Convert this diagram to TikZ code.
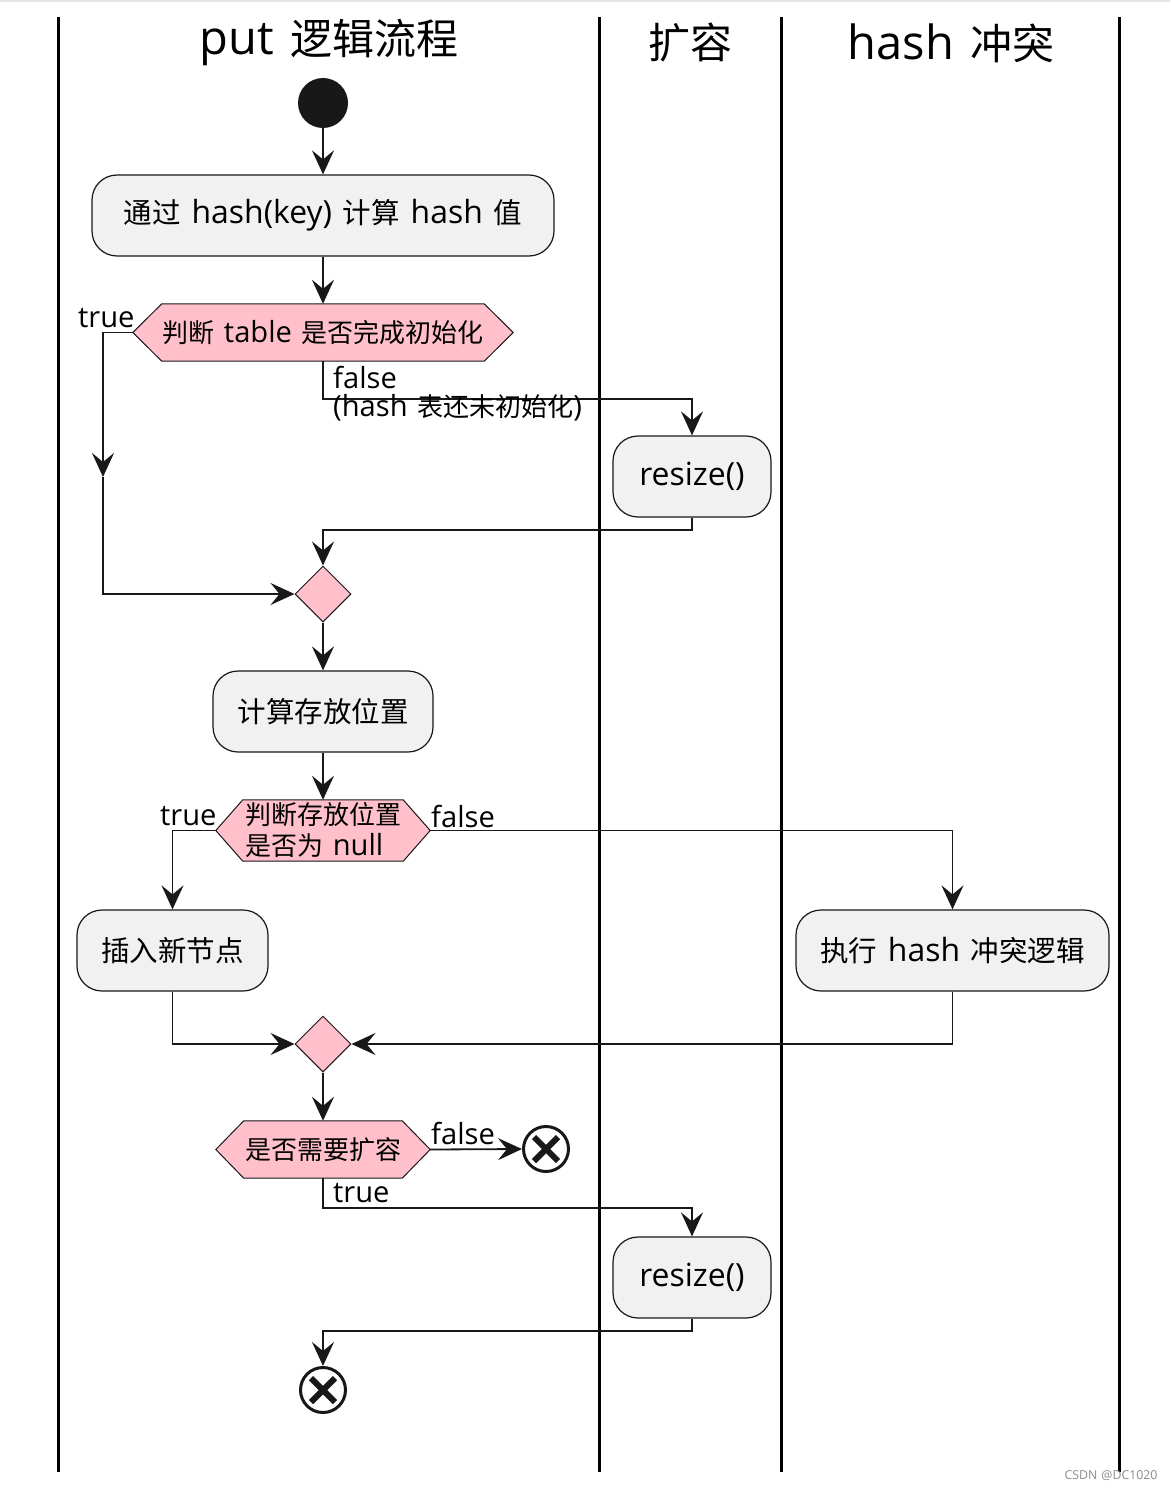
\documentclass[tikz,border=0pt]{standalone}
\usepackage{fontspec}
\setmainfont[Scale=1.12,WordSpace=1.3]{Open Sans}
\newfontfamily\cjkfam{Noto Sans CJK SC}
\newcommand\zhtxt[1]{{\cjkfam #1}}
\usetikzlibrary{arrows.meta,shapes.geometric,calc,backgrounds}
\definecolor{linec}{HTML}{181818}
\definecolor{boxfill}{HTML}{F1F1F1}
\definecolor{hexfill}{HTML}{FFC0CB}
\begin{document}
\begin{tikzpicture}[x=1pt,y=-1pt,
  lane/.style={line width=3pt,black},
  hdr/.style={font=\fontsize{42}{48}\selectfont,inner sep=0pt},
  act/.style={draw=linec,line width=1.2pt,fill=boxfill,rounded corners=25pt,minimum height=81pt,inner sep=0pt,font=\fontsize{28.5}{34}\selectfont},
  hexnode/.style={inner sep=0pt,font=\fontsize{26}{31}\selectfont},
  hexline/.style={draw=linec,line width=1pt,fill=hexfill},
  merge/.style={diamond,draw=linec,line width=1pt,fill=hexfill,minimum width=56pt,minimum height=56pt,inner sep=0pt},
  startc/.style={circle,fill=linec,minimum size=50pt,inner sep=0pt},
  endc/.style={circle,draw=linec,line width=3pt,fill=white,minimum size=45pt,inner sep=0pt},
  ln/.style={draw=linec,line width=1.8pt},
  arr/.style={ln,-{Stealth[length=24pt,width=22pt,inset=9pt]}},
  lbl/.style={font=\fontsize{26}{31}\selectfont,inner sep=0pt,anchor=west}
]
\useasboundingbox (0,0) rectangle (1170,1490);
% lanes
\draw[lane] (58,17) -- (58,1472);
\draw[lane] (599,17) -- (599,1472);
\draw[lane] (781,17) -- (781,1472);
\draw[lane] (1119,17) -- (1119,1472);
% headers
\node[hdr] (h1) at (329,43) {put \zhtxt{逻辑流程}};
\node[hdr] (h2) at (690,43) {\zhtxt{扩容}};
\node[hdr] (h3) at (951,43) {hash \zhtxt{冲突}};
% nodes
\node[startc] (s) at (323,103) {};
\node[act,minimum width=462pt] (b1) at (323,215.5) {\zhtxt{通过} hash(key) \zhtxt{计算} hash \zhtxt{值}};
\node[hexnode,minimum width=380pt,minimum height=57pt] (d1) at (323,332.5) {\zhtxt{判断} table \zhtxt{是否完成初始化}};
\node[act,minimum width=158pt] (r1) at (692,476.5) {resize()};
\node[merge] (m1) at (323,594) {};
\node[act,minimum width=220pt] (b2) at (323,711.5) {\zhtxt{计算存放位置}};
\node[hexnode,minimum width=214pt,minimum height=61pt,align=left] (d2) at (323,830.5) {\zhtxt{判断存放位置}\\\zhtxt{是否为} null};
\node[act,minimum width=191pt] (b3) at (172.5,950.5) {\zhtxt{插入新节点}};
\node[act,minimum width=313pt] (b4) at (952.5,950.5) {\zhtxt{执行} hash \zhtxt{冲突逻辑}};
\node[merge] (m2) at (323,1044) {};
\node[hexnode,minimum width=214pt,minimum height=57pt] (d3) at (323,1149.5) {\zhtxt{是否需要扩容}};
\node[endc] (e1) at (546,1149) {};
\node[act,minimum width=158pt] (r2) at (692,1277.5) {resize()};
\node[endc] (e2) at (323,1390) {};
\foreach \e in {e1,e2}{
  \draw[line width=6pt,linec] ([shift={(-12,-12)}]\e.center) -- ([shift={(12,12)}]\e.center);
  \draw[line width=6pt,linec] ([shift={(-12,12)}]\e.center) -- ([shift={(12,-12)}]\e.center);
}
\begin{scope}[on background layer]
  \fill[white] (0,0) rectangle (1170,1490);
  \fill[black!10] (0,0) rectangle (1170,2);
  \foreach \n/\i in {d1/29,d2/27,d3/28}{
    \path[hexline] (\n.west) -- ([xshift=\i pt]\n.north west) -- ([xshift=-\i pt]\n.north east) -- (\n.east) -- ([xshift=-\i pt]\n.south east) -- ([xshift=\i pt]\n.south west) -- cycle;
  }
\end{scope}
% connectors
\draw[arr] (s) -- (b1);
\draw[arr] (b1) -- (d1.north);
\coordinate (t1) at (103,477);
\draw[arr] (d1.west) -| (t1);
\draw[arr] (t1) |- (m1.west);
\draw[arr] (d1.south) -- ++(0,38) -| (r1.north);
\draw[arr] (r1.south) -- ++(0,12) -| (m1.north);
\draw[arr] (m1.south) -- (b2.north);
\draw[arr] (b2.south) -- (d2.north);
\draw[arr] (d2.west) -| (b3.north);
\draw[arr] (d2.east) -| (b4.north);
\draw[arr] (b3.south) |- (m2.west);
\draw[arr] (b4.south) |- (m2.east);
\draw[arr] (m2.south) -- (d3.north);
\draw[arr] (d3.east) -- (e1.west);
\draw[arr] (d3.south) -- ++(0,30) -| (r2.north);
\draw[arr] (r2.south) -- ++(0,12) -| (e2.north);
% labels
\node[lbl] (l1) at (78,318) {true};
\node[lbl] (l2) at (333,377) {false};
\node[lbl] (l3) at (333,408) {(hash \zhtxt{表还未初始化})};
\node[lbl] (l4) at (160,816) {true};
\node[lbl] (l5) at (431,816) {false};
\node[lbl] (l6) at (431,1133) {false};
\node[lbl] (l7) at (333,1193) {true};
\node[font=\fontsize{11}{13}\selectfont,text=black!45,inner sep=0pt] (wm) at (1111,1476) {CSDN @DC1020};
\end{tikzpicture}
\end{document}
